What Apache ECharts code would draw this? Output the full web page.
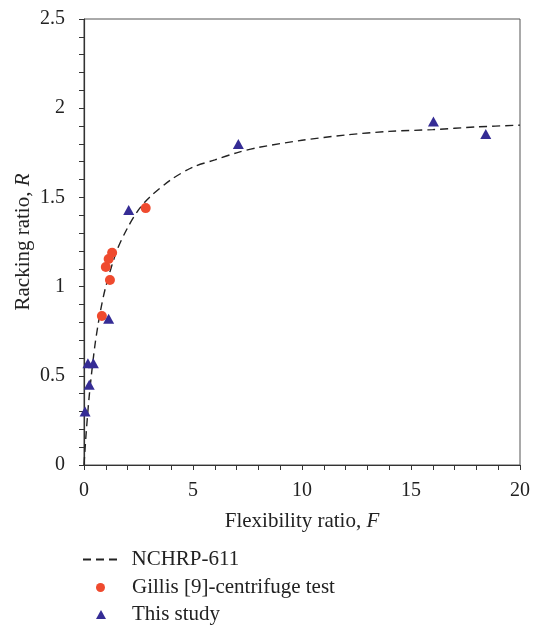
<!DOCTYPE html>
<html><head><meta charset="utf-8">
<script src="https://cdn.jsdelivr.net/npm/echarts@6/dist/echarts.min.js"></script>
<style>html,body{margin:0;padding:0;background:#fff}#c{width:533px;height:628px}</style>
</head><body><div id="c"></div>
<script>
// NCHRP-611 curve
const curveF = [0, 0.1, 0.25, 0.5, 0.75, 1, 1.5, 2, 2.5, 3, 4, 5, 6, 7, 8, 10, 12, 14, 16, 18, 20];
const curveR = [0, 0.18, 0.40, 0.67, 0.86, 1.0, 1.2, 1.33, 1.43, 1.5, 1.6, 1.67, 1.71, 1.75, 1.78, 1.82, 1.85, 1.87, 1.88, 1.895, 1.905];
// Gillis [9] centrifuge test
const gillisF = [0.82, 1.0, 1.13, 1.19, 1.29, 2.83];
const gillisR = [0.835, 1.11, 1.155, 1.037, 1.19, 1.44];
// This study
const studyF = [0.05, 0.24, 0.18, 0.43, 1.13, 2.05, 7.08, 16.03, 18.43];
const studyR = [0.30, 0.45, 0.57, 0.57, 0.82, 1.43, 1.80, 1.925, 1.855];

const font = 'Liberation Serif';
const txt = '#222';
const zip = (a, b) => a.map((v, i) => [v, b[i]]);
const chart = echarts.init(document.getElementById('c'));
const legendText = (pl) => ({ fontFamily: font, fontSize: 21, color: txt, padding: [0, 0, 0, pl] });
const titleStyle = { fontFamily: font, fontSize: 21, color: txt,
  rich: { i: { fontFamily: font, fontSize: 21, fontStyle: 'italic', color: txt } } };
chart.setOption({
  animation: false,
  grid: { left: 84, right: 10, top: 19, bottom: 163, show: true, borderColor: '#555', borderWidth: 1 },
  legend: [
    { orient: 'vertical', left: 83, top: 549, padding: 0, itemWidth: 35, itemHeight: 2,
      textStyle: legendText(9),
      data: [{ name: 'NCHRP-611', icon: 'path://M0,0h8v2h-8z M13,0h8v2h-8z M26,0h8v2h-8z', itemStyle: { color: '#222' } }] },
    { orient: 'vertical', left: 96, top: 577, padding: 0, itemWidth: 9, itemHeight: 9,
      textStyle: legendText(22),
      data: [{ name: 'Gillis [9]-centrifuge test', icon: 'circle' }] },
    { orient: 'vertical', left: 96, top: 604, padding: 0, itemWidth: 10, itemHeight: 9,
      textStyle: legendText(21),
      data: [{ name: 'This study', icon: 'triangle' }] }
  ],
  xAxis: {
    type: 'value', min: 0, max: 20, interval: 5,
    name: 'Flexibility ratio, {i|F}', nameLocation: 'middle', nameGap: 46, nameMoveOverlap: false,
    nameTextStyle: titleStyle,
    axisLine: { lineStyle: { color: '#333', width: 1.2 } },
    axisTick: { length: 5, lineStyle: { color: '#333' } },
    minorTick: { show: true, splitNumber: 5, length: 5, lineStyle: { color: '#333' } },
    axisLabel: { fontFamily: font, fontSize: 20, color: txt, margin: 16 },
    splitLine: { show: false }
  },
  yAxis: {
    type: 'value', min: 0, max: 2.5, interval: 0.5,
    name: 'Racking ratio, {i|R}', nameLocation: 'middle', nameGap: 50, nameMoveOverlap: false,
    nameTextStyle: titleStyle,
    axisLine: { show: true, lineStyle: { color: '#333', width: 1.2 } },
    axisTick: { show: true, length: 5, lineStyle: { color: '#333' } },
    minorTick: { show: true, splitNumber: 5, length: 5, lineStyle: { color: '#333' } },
    axisLabel: { fontFamily: font, fontSize: 20, color: txt, margin: 19 },
    splitLine: { show: false }
  },
  series: [
    { name: 'NCHRP-611', type: 'line', data: zip(curveF, curveR), smooth: 0.3, showSymbol: false, symbol: 'none',
      lineStyle: { color: '#222', width: 1.4, type: [8, 5] }, itemStyle: { color: '#222' }, z: 2 },
    { name: 'Gillis [9]-centrifuge test', type: 'scatter', data: zip(gillisF, gillisR), symbol: 'circle', symbolSize: 10,
      itemStyle: { color: '#EF4A2E', opacity: 1 }, z: 3 },
    { name: 'This study', type: 'scatter', data: zip(studyF, studyR), symbol: 'triangle', symbolSize: [11, 10],
      itemStyle: { color: '#352C95', opacity: 1 }, z: 4 }
  ]
});
</script></body></html>
